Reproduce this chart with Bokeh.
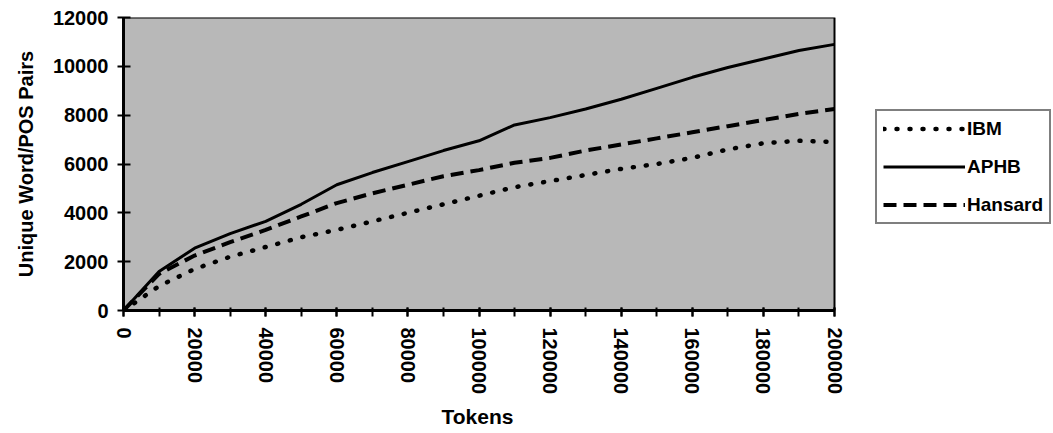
from bokeh.plotting import figure
from bokeh.models import Legend, LegendItem, SingleIntervalTicker, BasicTickFormatter, Range1d, Title
from bokeh.embed import file_html
from bokeh.resources import INLINE

tokens = [0, 10000, 20000, 30000, 40000, 50000, 60000, 70000, 80000, 90000, 100000,
          110000, 120000, 130000, 140000, 150000, 160000, 170000, 180000, 190000, 200000]
ibm = [0, 1000, 1700, 2200, 2600, 3000, 3300, 3650, 4000, 4350, 4700,
       5050, 5300, 5550, 5800, 6000, 6250, 6600, 6850, 6950, 6900]
aphb = [0, 1600, 2550, 3150, 3650, 4350, 5150, 5650, 6100, 6550, 6950,
        7600, 7900, 8250, 8650, 9100, 9550, 9950, 10300, 10650, 10900]
hansard = [0, 1500, 2250, 2800, 3300, 3850, 4400, 4800, 5150, 5500, 5750,
           6050, 6250, 6550, 6800, 7050, 7300, 7550, 7800, 8050, 8250]
series_names = ["IBM", "APHB", "Hansard"]
x_title = "Tokens"
y_title = "Unique Word/POS Pairs"
x_min, x_max = 0, 200000
y_min, y_max = 0, 12000

FONT = "Liberation Sans"
W, H = 1053, 433
LEFT, TOP, BOTTOM = 123, 17, 123
PLOT_W = 711  # pixel width of the data area
frame_w = W - LEFT
x_end = x_min + (x_max - x_min) * frame_w / PLOT_W

p = figure(width=W, height=H, output_backend="svg", toolbar_location=None,
           x_range=Range1d(x_min, x_end), y_range=Range1d(y_min, y_max),
           min_border_left=LEFT, min_border_right=0, min_border_top=TOP, min_border_bottom=BOTTOM)

p.background_fill_color = "white"
p.border_fill_color = "white"
p.outline_line_color = None
p.xgrid.visible = False
p.ygrid.visible = False

# shaded data area with its black frame
p.quad(left=[x_min], right=[x_max], bottom=[y_min], top=[y_max],
       fill_color="#b8b8b8", line_color="black", line_width=2)

r_ibm = p.line(tokens, ibm, line_color="black", line_width=4.5, line_dash="1 12", line_cap="round")
r_aphb = p.line(tokens, aphb, line_color="black", line_width=3)
r_han = p.line(tokens, hansard, line_color="black", line_width=4, line_dash="13 7")

# axes
p.xaxis.ticker = SingleIntervalTicker(interval=20000, num_minor_ticks=2)
p.yaxis.ticker = SingleIntervalTicker(interval=2000, num_minor_ticks=0)
p.xaxis.formatter = BasicTickFormatter(use_scientific=False)
p.yaxis.formatter = BasicTickFormatter(use_scientific=False)
p.xaxis.bounds = (x_min, x_max)
for ax in (p.xaxis, p.yaxis):
    ax.axis_line_width = 3
    ax.axis_line_color = "black"
    ax.major_tick_line_width = 2
    ax.major_tick_line_color = "black"
    ax.major_tick_out = 6
    ax.major_label_text_font = FONT
    ax.major_label_text_font_style = "bold"
    ax.major_label_text_font_size = "20px"
    ax.major_label_text_color = "black"
    ax.axis_label_text_font = FONT
    ax.axis_label_text_font_style = "bold"
    ax.axis_label_text_color = "black"
p.yaxis.major_tick_in = 7
p.xaxis.major_tick_in = 3
p.xaxis.minor_tick_line_width = 2
p.xaxis.minor_tick_line_color = "black"
p.xaxis.minor_tick_in = 3
p.xaxis.minor_tick_out = 6
p.xaxis.major_label_orientation = "vertical"
p.xaxis.major_label_standoff = 11
p.yaxis.major_label_standoff = 9
p.yaxis.axis_label = y_title
p.yaxis.axis_label_text_font_size = "20px"
p.yaxis.axis_label_standoff = 13

# x-axis title centred under the data area
xt = Title(text=x_title, align="left", offset=318, standoff=10,
           text_font=FONT, text_font_style="bold", text_font_size="21px", text_color="black")
p.add_layout(xt, "below")

legend = Legend(items=[LegendItem(label=series_names[0], renderers=[r_ibm]),
                       LegendItem(label=series_names[1], renderers=[r_aphb]),
                       LegendItem(label=series_names[2], renderers=[r_han])],
                location=(PLOT_W + 41, 86))
legend.glyph_width = 82
legend.glyph_height = 23
legend.label_height = 23
legend.label_standoff = 2
legend.spacing = 15
legend.padding = 6
legend.margin = 0
legend.border_line_color = "black"
legend.border_line_width = 2
legend.background_fill_color = "white"
legend.background_fill_alpha = 1
legend.label_text_font = FONT
legend.label_text_font_style = "bold"
legend.label_text_font_size = "19px"
legend.label_text_color = "black"
p.add_layout(legend, "center")

open("out.html", "w").write(file_html(p, INLINE))
